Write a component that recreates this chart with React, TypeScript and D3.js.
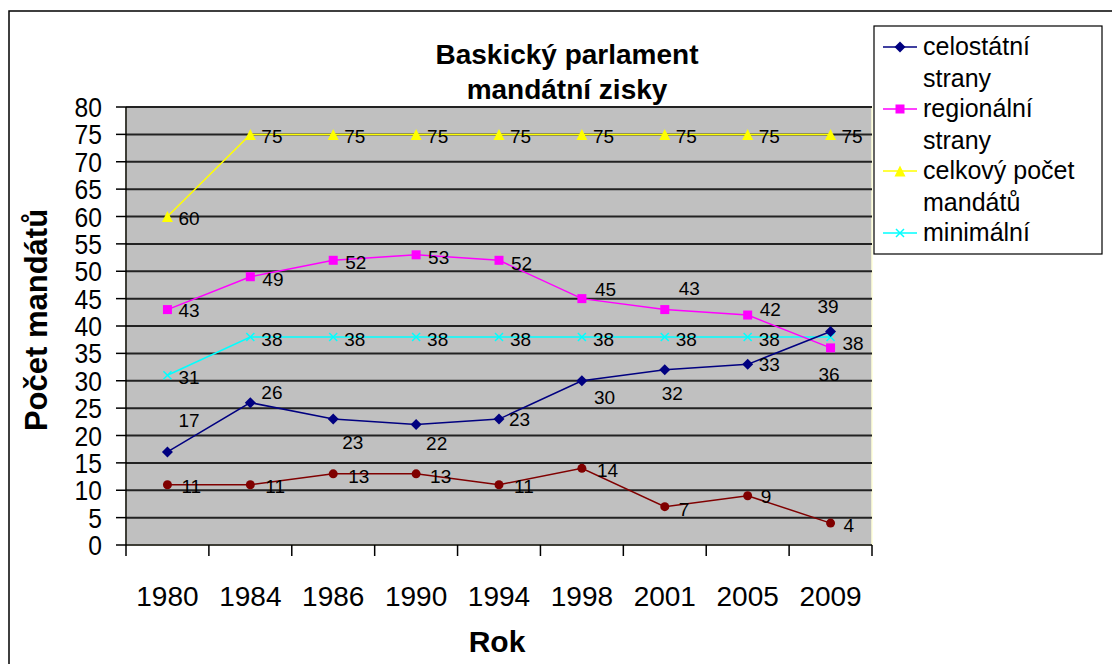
import React from "react";
import * as d3 from "d3";

const years = ["1980", "1984", "1986", "1990", "1994", "1998", "2001", "2005", "2009"];
const celostatni = [17, 26, 23, 22, 23, 30, 32, 33, 39];
const regionalni = [43, 49, 52, 53, 52, 45, 43, 42, 36];
const celkovy = [60, 75, 75, 75, 75, 75, 75, 75, 75];
const minimalni = [31, 38, 38, 38, 38, 38, 38, 38, 38];
const ostatni = [11, 11, 13, 13, 11, 14, 7, 9, 4];
const yTicks = d3.range(0, 81, 5);

// label offsets (dx from point to text start, dy from point to text middle)
const offCelostatni = [[11, -32], [11, -10], [9, 23], [10, 19], [10, 0], [12, 16], [-3, 23], [11, 0], [-13, -25]];
const offRegionalni = [[11, 1], [12, 2], [12, 2], [12, 2], [12, 3], [13, -9], [14, -21], [12, -6], [-12, 26]];
const offCelkovy = [[11, 2], [11, 2], [11, 2], [11, 2], [11, 2], [11, 2], [11, 2], [11, 2], [11, 2]];
const offMinimalni = [[11, 2], [11, 2], [11, 2], [11, 2], [11, 2], [11, 2], [11, 2], [11, 2], [12, 6]];
const offOstatni = [[14, 1], [15, 1], [15, 2], [14, 2], [15, 1], [15, 2], [14, 2], [13, 0], [13, 2]];

const W = 1112, H = 664;
const plot = { left: 126, right: 872, top: 107, bottom: 545 };
const x = d3.scaleBand().domain(years).range([plot.left, plot.right]);
const y = d3.scaleLinear().domain([0, 80]).range([plot.bottom, plot.top]);
const cx = (yr: string) => (x(yr) as number) + x.bandwidth() / 2;

type Marker = "diamond" | "square" | "triangle" | "x" | "circle";
const series: { name: string; values: number[]; color: string; marker: Marker; offs: number[][] }[] = [
  { name: "celkový", values: celkovy, color: "#FFFF00", marker: "triangle", offs: offCelkovy },
  { name: "minimální", values: minimalni, color: "#00FFFF", marker: "x", offs: offMinimalni },
  { name: "regionální", values: regionalni, color: "#FF00FF", marker: "square", offs: offRegionalni },
  { name: "celostátní", values: celostatni, color: "#000080", marker: "diamond", offs: offCelostatni },
  { name: "ostatní", values: ostatni, color: "#800000", marker: "circle", offs: offOstatni },
];

function MarkerShape({ type, px, py, color }: { type: Marker; px: number; py: number; color: string }) {
  if (type === "diamond") {
    const s = 5.5;
    return <path d={`M${px},${py - s}L${px + s},${py}L${px},${py + s}L${px - s},${py}Z`} fill={color} />;
  }
  if (type === "square") return <rect x={px - 4.5} y={py - 4.5} width={9} height={9} fill={color} />;
  if (type === "triangle") {
    const s = 5.5;
    return <path d={`M${px},${py - s}L${px + s},${py + s}L${px - s},${py + s}Z`} fill={color} />;
  }
  if (type === "x") {
    const s = 4;
    return <path d={`M${px - s},${py - s}L${px + s},${py + s}M${px - s},${py + s}L${px + s},${py - s}`} stroke={color} strokeWidth={1.5} />;
  }
  return <circle cx={px} cy={py} r={4.5} fill={color} />;
}

const legendItems = [
  { lines: ["celostátní", "strany"], color: "#000080", marker: "diamond" as Marker },
  { lines: ["regionální", "strany"], color: "#FF00FF", marker: "square" as Marker },
  { lines: ["celkový počet", "mandátů"], color: "#FFFF00", marker: "triangle" as Marker },
  { lines: ["minimální"], color: "#00FFFF", marker: "x" as Marker },
];

export default function App() {
  const line = d3.line<number>().x((_, i) => cx(years[i])).y((d) => y(d));
  const font = "'Liberation Sans', Arial, sans-serif";
  return (
    <svg width={W} height={H} style={{ position: "absolute", left: 0, top: 0, background: "#fff" }} fontFamily={font}>
      <rect x={9} y={11} width={1200} height={800} fill="#fff" stroke="#000" strokeWidth={1.5} />
      {/* title */}
      <text x={567} y={64} textAnchor="middle" fontSize={28} fontWeight="bold">Baskický parlament</text>
      <text x={567} y={99} textAnchor="middle" fontSize={28} fontWeight="bold">mandátní zisky</text>
      {/* plot area */}
      <rect x={plot.left} y={plot.top} width={plot.right - plot.left} height={plot.bottom - plot.top} fill="#C0C0C0" stroke="#FFFFD8" strokeWidth={1.5} />
      {yTicks.filter((t) => t > 0).map((t) => (
        <line key={t} x1={plot.left} x2={plot.right} y1={y(t)} y2={y(t)} stroke="#222" strokeWidth={2} />
      ))}
      {/* y axis */}
      <line x1={plot.left} x2={plot.left} y1={plot.top} y2={plot.bottom} stroke="#000" strokeWidth={1.5} />
      {yTicks.map((t) => (
        <g key={t}>
          <line x1={plot.left - 10} x2={plot.left} y1={y(t)} y2={y(t)} stroke="#000" strokeWidth={1.5} />
          <text x={102} y={y(t)} dy="0.36em" textAnchor="end" fontSize={28} transform={`translate(${102 * 0.12},0) scale(0.88,1)`}>{t}</text>
        </g>
      ))}
      {/* x axis */}
      <line x1={plot.left} x2={plot.right} y1={plot.bottom} y2={plot.bottom} stroke="#000" strokeWidth={1.5} />
      {years.map((yr) => (
        <line key={"t" + yr} x1={x(yr) as number} x2={x(yr) as number} y1={plot.bottom} y2={plot.bottom + 11} stroke="#000" strokeWidth={1.5} />
      ))}
      <line x1={plot.right} x2={plot.right} y1={plot.bottom} y2={plot.bottom + 11} stroke="#000" strokeWidth={1.5} />
      {years.map((yr) => (
        <text key={"l" + yr} x={cx(yr)} y={606} textAnchor="middle" fontSize={28}>{yr}</text>
      ))}
      <text x={497} y={652} textAnchor="middle" fontSize={30} fontWeight="bold">Rok</text>
      <text transform="translate(47,320) rotate(-90)" textAnchor="middle" fontSize={31} fontWeight="bold">Počet mandátů</text>
      {/* series */}
      {series.map((s) => (
        <g key={s.name}>
          <path d={line(s.values) as string} fill="none" stroke={s.color} strokeWidth={1.5} />
          {s.values.map((v, i) => (
            <MarkerShape key={i} type={s.marker} px={cx(years[i])} py={y(v)} color={s.color} />
          ))}
        </g>
      ))}
      {series.map((s) => (
        <g key={"lab" + s.name}>
          {s.values.map((v, i) => (
            <text key={i} x={cx(years[i]) + s.offs[i][0]} y={y(v) + s.offs[i][1]} dy="0.36em" fontSize={19}>{v}</text>
          ))}
        </g>
      ))}
      {/* legend */}
      <rect x={874} y={26} width={228} height={228} fill="#fff" stroke="#000" strokeWidth={1.2} />
      {legendItems.map((it, i) => {
        const ly = 47 + i * 62;
        return (
          <g key={i}>
            <line x1={883} x2={917} y1={ly} y2={ly} stroke={it.color} strokeWidth={1.5} />
            <MarkerShape type={it.marker} px={900} py={ly} color={it.color} />
            {it.lines.map((t, j) => (
              <text key={j} x={923} y={ly + 8 + j * 32} fontSize={25}>{t}</text>
            ))}
          </g>
        );
      })}
    </svg>
  );
}
